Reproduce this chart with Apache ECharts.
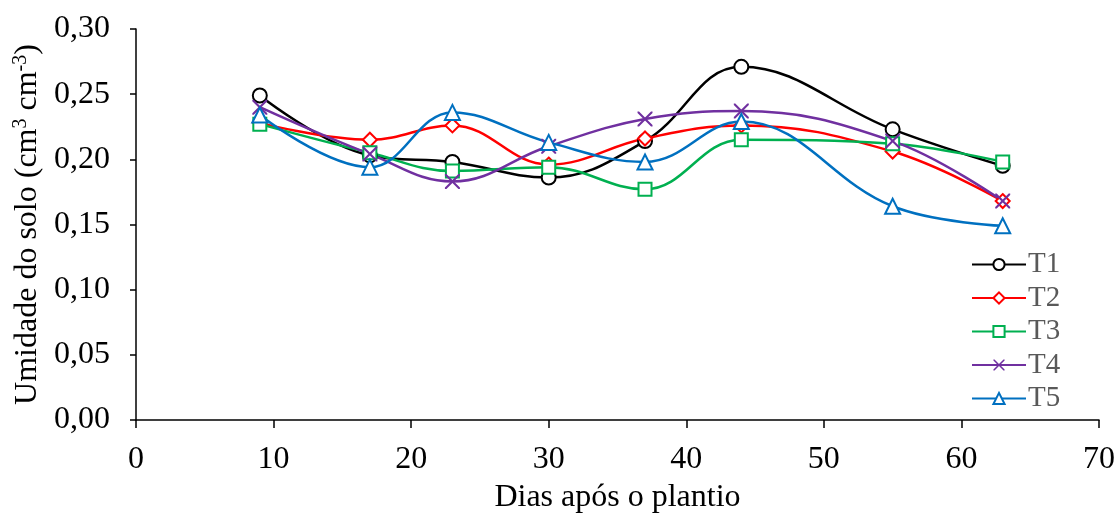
<!DOCTYPE html>
<html style="height: 100%">
<head>
  <meta charset="UTF-8" />
  <title>Umidade do solo</title>
  <script src="https://cdn.jsdelivr.net/npm/echarts@6/dist/echarts.min.js"></script>
</head>
<body style="height: 100%; margin: 0; background: #fff">
  <div id="container" style="width: 1118px; height: 514px"></div>
  <script>
    const days = [9, 17, 23, 30, 37, 44, 55, 63];
    const t1 = [0.249, 0.203, 0.198, 0.186, 0.214, 0.271, 0.223, 0.195];
    const t2 = [0.228, 0.215, 0.226, 0.196, 0.216, 0.226, 0.206, 0.168];
    const t3 = [0.227, 0.205, 0.191, 0.194, 0.177, 0.215, 0.212, 0.198];
    const t4 = [0.240, 0.204, 0.183, 0.210, 0.231, 0.237, 0.214, 0.168];
    const t5 = [0.234, 0.194, 0.236, 0.213, 0.198, 0.229, 0.164, 0.149];

    const names = ['T1', 'T2', 'T3', 'T4', 'T5'];
    const colors = ['#000000', '#FF0000', '#00B050', '#7030A0', '#0070C0'];
    const crossPath = 'path://M0,0 L2,0 L10,8 L18,0 L20,0 L20,2 L12,10 L20,18 L20,20 L18,20 L10,12 L2,20 L0,20 L0,18 L8,10 L0,2 Z';
    const symbols = ['emptyCircle', 'emptyDiamond', 'emptyRect', crossPath, 'emptyTriangle'];
    const sizes = [14, 14, 13, 15, 15];
    const font = '"Liberation Serif", "Times New Roman", serif';

    const chart = echarts.init(document.getElementById('container'), null, { renderer: 'canvas' });

    const series = [t1, t2, t3, t4, t5].map((vals, i) => ({
      name: names[i],
      type: 'line',
      data: days.map((d, j) => [d, vals[j]]),
      smooth: 0.4,
      symbol: symbols[i],
      symbolSize: sizes[i],
      color: colors[i],
      lineStyle: { width: 2.5, color: colors[i] },
      itemStyle: { color: colors[i], borderWidth: 2 }
    }));

    chart.setOption({
      animation: false,
      textStyle: { fontFamily: font },
      grid: { left: 136, right: 19, top: 29, bottom: 94, containLabel: false, outerBoundsMode: 'none' },
      legend: {
        orient: 'vertical',
        left: 966,
        top: 245,
        itemWidth: 54,
        itemHeight: 14,
        itemGap: 4.5,
        textStyle: { fontFamily: font, fontSize: 29, color: '#595959', padding: [0, 0, 0, -3] },
        data: names
      },
      xAxis: {
        type: 'value',
        min: 0,
        max: 70,
        interval: 10,
        name: 'Dias após o plantio',
        nameLocation: 'middle',
        nameGap: 62,
        nameTextStyle: { fontFamily: font, fontSize: 32, color: '#000' },
        axisLine: { lineStyle: { color: '#000', width: 1.5 } },
        axisTick: { inside: false, length: 8, lineStyle: { color: '#000', width: 1.5 } },
        axisLabel: { fontFamily: font, fontSize: 32, color: '#000', margin: 24 },
        splitLine: { show: false }
      },
      yAxis: {
        type: 'value',
        min: 0,
        max: 0.3,
        interval: 0.05,
        name: 'Umidade do solo (cm{sup|3} cm{sup|-3})',
        nameLocation: 'middle',
        nameRotate: 90,
        nameGap: 92,
        nameTextStyle: {
          fontFamily: font, fontSize: 32, color: '#000',
          rich: { sup: { fontFamily: font, fontSize: 20, color: '#000', verticalAlign: 'top', padding: [0, 0, 12, 0] } }
        },
        axisLine: { show: true, lineStyle: { color: '#000', width: 1.5 } },
        axisTick: { show: true, inside: false, length: 6, lineStyle: { color: '#000', width: 1.5 } },
        axisLabel: {
          fontFamily: font, fontSize: 32, color: '#000', margin: 26,
          formatter: v => v.toFixed(2).replace('.', ',')
        },
        splitLine: { show: false }
      },
      series: series
    });
  </script>
</body>
</html>
